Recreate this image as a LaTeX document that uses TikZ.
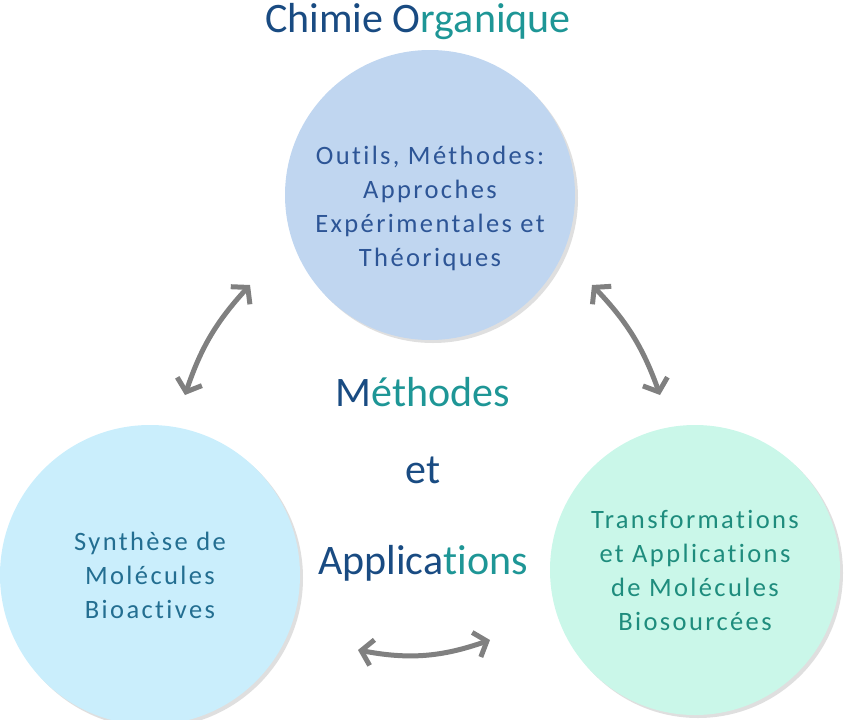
\documentclass[tikz,border=0pt]{standalone}
\usepackage{fontspec}
\setmainfont{Carlito}[Ligatures=NoCommon]
\usetikzlibrary{arrows.meta,shadows}
\definecolor{topc}{RGB}{192,214,240}
\definecolor{leftc}{RGB}{202,238,252}
\definecolor{rightc}{RGB}{202,247,233}
\definecolor{toptxt}{RGB}{45,85,150}
\definecolor{lefttxt}{RGB}{35,110,145}
\definecolor{righttxt}{RGB}{30,140,125}
\definecolor{ttl1}{RGB}{25,75,130}
\definecolor{ttl2}{RGB}{30,150,150}
\definecolor{arr}{RGB}{128,128,128}
\tikzset{
 circfont/.style={align=center,font=\fontsize{26.5}{34}\selectfont\addfontfeatures{LetterSpace=9}},
 circ/.style={circle,minimum size=#1,inner sep=0pt,circfont,drop shadow={shadow xshift=3pt,shadow yshift=-3pt,fill=black!25}},
 bigtxt/.style={font=\fontsize{42}{46}\selectfont},
 dbl/.style={draw=arr,line width=5pt,{Straight Barb[length=11pt,width=26pt]}-{Straight Barb[length=11pt,width=26pt]}}
}
\begin{document}
\begin{tikzpicture}[x=1pt,y=-1pt]
\useasboundingbox (0,0) rectangle (860,720);
\node[circ=290pt,fill=topc] (top) at (430,195) {};
\node[circfont,text=toptxt] (toptext) at (430,208) {Outils, Méthodes:\\Approches\\Expérimentales et\\Théoriques};
\node[circ=300pt,fill=leftc,text=lefttxt] (left) at (150,575) {Synthèse de\\Molécules\\Bioactives};
\node[circ=290pt,fill=rightc,text=righttxt] (right) at (695,570) {Transformations\\et Applications\\de Molécules\\Biosourcées};
\node[bigtxt] (title) at (418,22) {\textcolor{ttl1}{Chimie O}\textcolor{ttl2}{rganique}};
\node[bigtxt] (m) at (423,392) {\textcolor{ttl1}{M}\textcolor{ttl2}{éthodes}};
\node[bigtxt,text=ttl1] (e) at (423,470) {et};
\node[bigtxt] (a) at (423,563) {\textcolor{ttl1}{Applica}\textcolor{ttl2}{tions}};
\coordinate (l1) at (250,285); \coordinate (l2) at (185,395);
\coordinate (r1) at (592,285); \coordinate (r2) at (660,395);
\coordinate (b1) at (358,650); \coordinate (b2) at (490,640);
\draw[dbl] (l1) to[bend right=12] (l2);
\draw[dbl] (r1) to[bend left=12] (r2);
\draw[dbl] (b1) to[bend right=15] (b2);
\end{tikzpicture}
\end{document}
